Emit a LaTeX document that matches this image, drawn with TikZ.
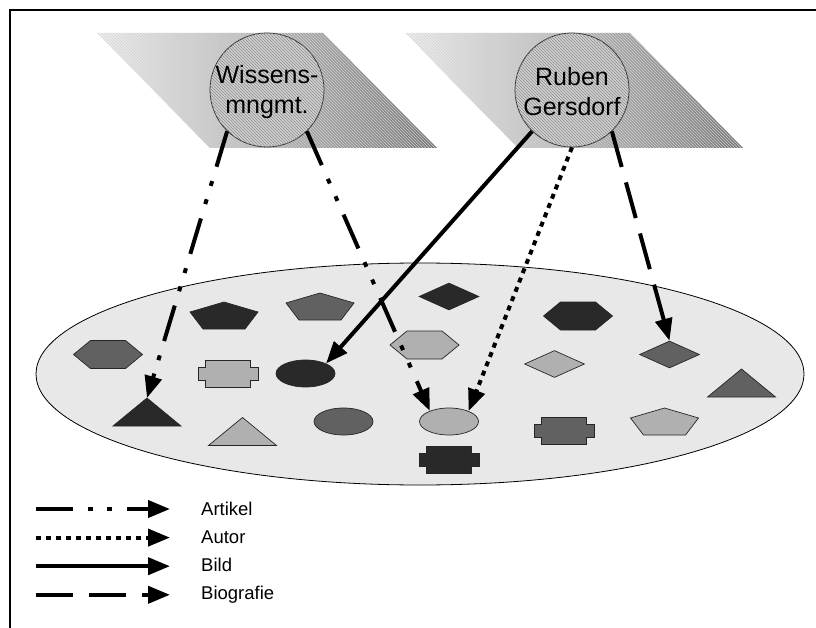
\documentclass[tikz,border=0pt]{standalone}
\usepackage{fontspec}
\setmainfont{Liberation Sans}
\usepackage{tikz}
\usetikzlibrary{arrows.meta,shapes.geometric,patterns}
\tikzset{
  shp/.style = {draw=black!85, line width=0.7pt},
  dk/.style = {shp, fill=black!84},
  md/.style = {shp, fill=black!62},
  lt/.style = {shp, fill=black!31},
  band/.style = {left color=black!5, right color=black!54,
    postaction={pattern=north west lines, pattern color=black!18}},
  hub/.style = {circle, minimum size=114pt, inner sep=0pt, draw=black!80,
    line width=0.8pt, fill=black!18,
    postaction={pattern=north west lines, pattern color=black!45}},
  hubtext/.style = {align=center, inner sep=0pt,
    font=\fontsize{25}{30}\selectfont},
  oval/.style = {ellipse, minimum width=59pt, minimum height=27pt, inner sep=0pt},
  rhomb/.style = {diamond, minimum width=60pt, minimum height=27pt, inner sep=0pt},
  legtext/.style = {anchor=base west, inner sep=0pt, font=\fontsize{18.5}{22}\selectfont},
  arr/.style = {line width=4pt, -{Triangle[length=22pt,width=17pt]}},
  artikel/.style = {arr, dash pattern=on 37pt off 15pt on 5pt off 14pt on 5pt off 15pt},
  autor/.style = {arr, dash pattern=on 5pt off 5pt},
  bild/.style = {arr},
  biografie/.style = {arr, dash pattern=on 37pt off 16pt},
  hexa/.pic = {\path[pic actions] (-34.5,0) -- (-17.5,-14) -- (17.5,-14) -- (34.5,0)
    -- (17.5,14) -- (-17.5,14) -- cycle;},
  penta/.pic = {\path[pic actions] (0,-13.5) -- (34,-3.5) -- (21,13.5) -- (-21,13.5)
    -- (-34,-3.5) -- cycle;},
  tria/.pic = {\path[pic actions] (0,-14) coordinate (-top) -- (34,14) -- (-34,14) -- cycle;},
  plaq/.pic = {\path[pic actions] (-22.5,-13.5) -- (22.5,-13.5) -- (22.5,-6.5) -- (30,-6.5)
    -- (30,6.5) -- (22.5,6.5) -- (22.5,13.5) -- (-22.5,13.5) -- (-22.5,6.5) -- (-30,6.5)
    -- (-30,-6.5) -- (-22.5,-6.5) -- cycle;}
}

\begin{document}
\begin{tikzpicture}[x=1pt, y=-1pt]
  \useasboundingbox (0,0) rectangle (816,628);
  \draw[line width=2pt] (816,10) -- (10,10) -- (10,628);

  % the two topics
  \path[band] (97,33) -- (323,33) -- (437,148) -- (210,148) -- cycle;
  \path[band] (405,33) -- (630,33) -- (743,148) -- (518,148) -- cycle;
  \node[hub] (wm) at (267,90) {};
  \node[hubtext] (wmt) at (267,92) {Wissens-\\mngmt.};
  \node[hub] (rg) at (572,90) {};
  \node[hubtext] (rgt) at (572,92) {Ruben\\Gersdorf};

  % the pool of resources
  \node[ellipse, draw, line width=0.8pt, fill=black!9, minimum width=768pt,
    minimum height=222pt, inner sep=0pt] (pool) at (420,374) {};

  \pic[md] (h1) at (108,354.5) {hexa};
  \pic[dk] (p1) at (224,315.5) {penta};
  \pic[md] (p2) at (320,306.5) {penta};
  \node[rhomb, dk] (dk1) at (449,296.5) {};
  \pic[dk] (h2) at (578,316) {hexa};
  \pic[lt] (h3) at (424.5,345) {hexa};
  \pic[lt] (q1) at (228,373.5) {plaq};
  \node[oval, dk] (ek) at (305.5,373.5) {};
  \node[rhomb, lt] (dl) at (554.5,364) {};
  \node[rhomb, md] (dm) at (669.5,354.5) {};
  \pic[dk] (tk) at (147,412) {tria};
  \pic[lt] (t2) at (242.5,431.5) {tria};
  \node[oval, md] (em) at (343.5,421.5) {};
  \node[oval, lt] (el) at (449,421.5) {};
  \pic[md] (q2) at (564,431) {plaq};
  \pic[lt] (p3) at (664.5,421.5) {penta};
  \pic[md] (t3) at (741.5,383) {tria};
  \pic[dk] (q3) at (449,460) {plaq};

  % links
  \draw[artikel] (wm.226) -- (tk-top);
  \draw[artikel] (wm.314) -- (el.151);
  \draw[bild] (rg.226) -- (ek.26);
  \draw[autor] (rg.270) -- (el.28);
  \draw[biografie] (rg.314) -- (dm.north);

  % legend
  \foreach \sty/\txt [count=\i] in {artikel/Artikel, autor/Autor, bild/Bild, biografie/Biografie} {
    \coordinate (ls\i) at (36,{509+28.6*(\i-1)});
    \coordinate (le\i) at (170,{509+28.6*(\i-1)});
    \draw[\sty] (ls\i) -- (le\i);
    \node[legtext] (lt\i) at (201,{515.6+27.9*(\i-1)}) {\txt};
  }
\end{tikzpicture}
\end{document}
